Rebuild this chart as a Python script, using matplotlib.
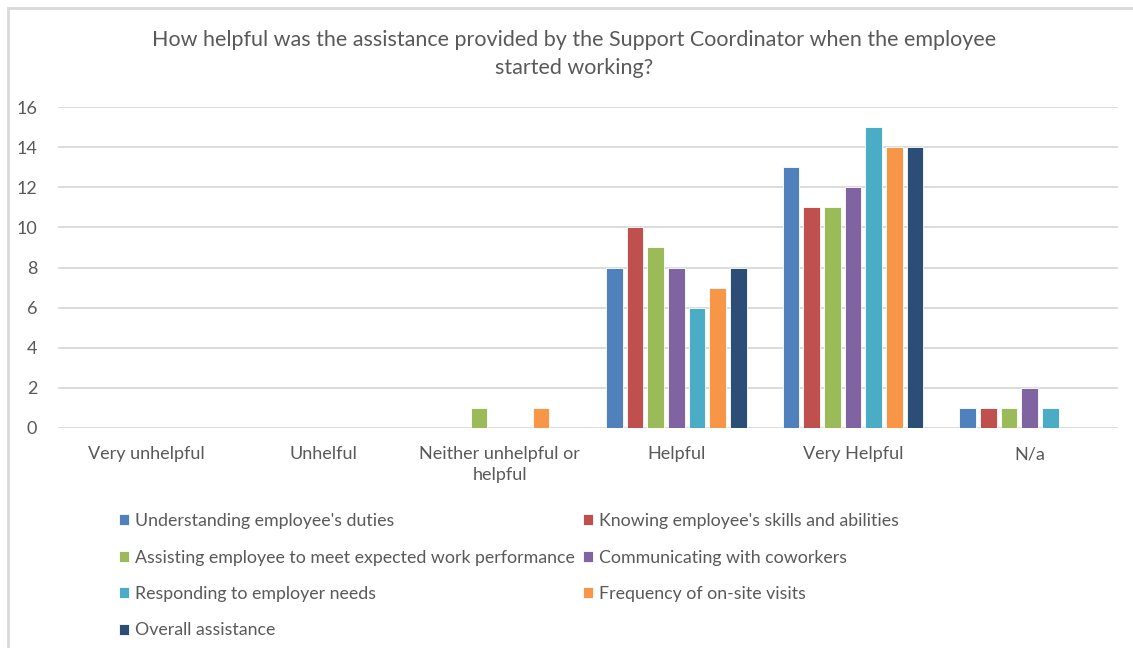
import matplotlib.pyplot as plt
import matplotlib.patches as mpatches
import numpy as np

categories = ["Very unhelpful", "Unhelful", "Neither unhelpful or\nhelpful",
              "Helpful", "Very Helpful", "N/a"]
series_names = [
    "Understanding employee's duties",
    "Knowing employee's skills and abilities",
    "Assisting employee to meet expected work performance",
    "Communicating with coworkers",
    "Responding to employer needs",
    "Frequency of on-site visits",
    "Overall assistance",
]
values = [
    [0, 0, 0, 8, 13, 1],
    [0, 0, 0, 10, 11, 1],
    [0, 0, 1, 9, 11, 1],
    [0, 0, 0, 8, 12, 2],
    [0, 0, 0, 6, 15, 1],
    [0, 0, 1, 7, 14, 0],
    [0, 0, 0, 8, 14, 0],
]
colors = ["#4F81BD", "#C0504D", "#9BBB59", "#8064A2", "#4BACC6", "#F79646", "#2C4D75"]
yticks = [0, 2, 4, 6, 8, 10, 12, 14, 16]
title = "How helpful was the assistance provided by the Support Coordinator when the employee\nstarted working?"

plt.rcParams['font.family'] = ['Lato', 'DejaVu Sans']
text_color = "#595959"

W, H = 1133, 648
fig = plt.figure(figsize=(W / 100, H / 100), dpi=100)

# outer chart frame
fig.patches.append(mpatches.Rectangle((8 / W, -0.05), 1.2, 1 - 8 / H + 0.05,
                                      transform=fig.transFigure, fill=False,
                                      edgecolor="#D9D9D9", linewidth=2))

left, right = 58, 1118
top, bottom = 107, 428
ax = fig.add_axes([left / W, 1 - bottom / H, (right - left) / W, (bottom - top) / H])

x = np.arange(len(categories))
slot = 0.117
bar_w = 0.094
n = len(series_names)
handles = []
for i, (name, vals, c) in enumerate(zip(series_names, values, colors)):
    offs = (i - (n - 1) / 2) * slot
    b = ax.bar(x + offs, vals, width=bar_w, color=c, edgecolor="white",
               linewidth=0.6, label=name, zorder=3)
    handles.append(b)

ax.set_xlim(-0.5, len(categories) - 0.5)
ax.set_ylim(0, 16)
ax.set_yticks(yticks)
ax.yaxis.grid(True, color="#D9D9D9", linewidth=1.3, zorder=0)
ax.set_axisbelow(True)
for s in ax.spines.values():
    s.set_visible(False)
ax.tick_params(axis='both', length=0, labelsize=13, labelcolor=text_color)
ax.tick_params(axis='y', pad=15)
ax.tick_params(axis='x', pad=13)
ax.set_xticks(x)
ax.set_xticklabels(categories, linespacing=1.4)

fig.text(574 / W, 1 - 54 / H, title, ha='center', va='center',
         fontsize=15.5, color=text_color, linespacing=1.5)

order = [0, 2, 4, 6, 1, 3, 5]
leg = fig.legend([handles[i] for i in order], [series_names[i] for i in order],
                 ncol=2, loc='upper left', bbox_to_anchor=(112 / W, 1 - 506 / H),
                 frameon=False, fontsize=12.8, labelcolor=text_color,
                 handlelength=0.55, handleheight=0.55, handletextpad=0.35,
                 columnspacing=0.45, labelspacing=1.15, borderaxespad=0)

fig.savefig("out.png", dpi=100, facecolor="white")
